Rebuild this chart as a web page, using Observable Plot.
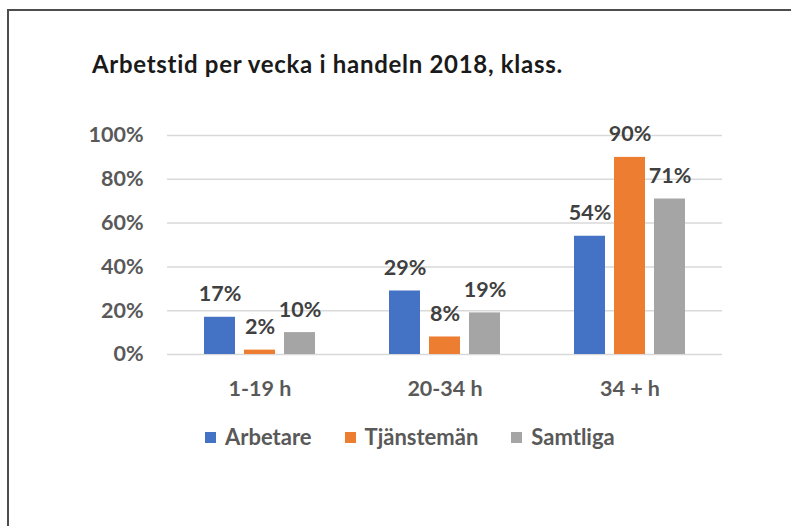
<!DOCTYPE html>
<html>
<head>
<meta charset="utf-8">
<script src="https://cdn.jsdelivr.net/npm/d3@7"></script>
<script src="https://cdn.jsdelivr.net/npm/@observablehq/plot@0.6"></script>
<style>
  body { margin: 0; background: #fff; }
  #wrap { position: relative; width: 791px; height: 526px; overflow: hidden; font-family: Lato, "Open Sans", sans-serif; }
  #frame { position: absolute; left: 7px; top: 9px; width: 800px; height: 600px; border-top: 2px solid #4d4d4d; border-left: 2px solid #4d4d4d; }
  #title { position: absolute; left: 92px; top: 52px; font-size: 24px; line-height: 24px; letter-spacing: 0.7px; font-weight: 700; color: #1a1a1a; white-space: nowrap; }
  #chart { position: absolute; left: 0; top: 120px; }
  #legend { position: absolute; left: 205px; top: 426px; display: flex; align-items: center; font-size: 22px; line-height: 22px; font-weight: 700; color: #595959; }
  .item { display: flex; align-items: center; margin-right: 33px; }
  .sw { width: 11px; height: 11px; margin-right: 9px; margin-top: 1px; }
</style>
</head>
<body>
<div id="wrap">
  <div id="frame"></div>
  <div id="title">Arbetstid per vecka i handeln 2018, klass.</div>
  <div id="chart"></div>
  <div id="legend"></div>
</div>
<script>
const categories = ["1-19 h", "20-34 h", "34 + h"];
const series = ["Arbetare", "Tjänstemän", "Samtliga"];
const colors = ["#4472C4", "#ED7D31", "#A5A5A5"];
const arbetare = [17, 29, 54];
const tjansteman = [2, 8, 90];
const samtliga = [10, 19, 71];
const yTicks = [0, 20, 40, 60, 80, 100];

const valuesBySeries = [arbetare, tjansteman, samtliga];
const data = [];
categories.forEach((c, i) => {
  series.forEach((s, j) => {
    data.push({cat: c, series: s, value: valuesBySeries[j][i]});
  });
});

const chart = Plot.plot({
  width: 791,
  height: 300,
  marginTop: 15,
  marginBottom: 66,
  marginLeft: 166,
  marginRight: 69,
  style: {fontFamily: "Lato, 'Open Sans', sans-serif", background: "transparent"},
  fx: {domain: categories, padding: 0, label: null},
  x: {domain: series, paddingInner: 0.22, paddingOuter: 0.87, axis: null},
  y: {domain: [0, 100], label: null},
  color: {domain: series, range: colors},
  marks: [
    Plot.gridY(yTicks, {stroke: "#d9d9d9", strokeOpacity: 1, strokeWidth: 1.5}),
    Plot.barY(data, {fx: "cat", x: "series", y: "value", fill: "series"}),
    Plot.text(data, {fx: "cat", x: "series", y: "value", text: d => d.value + "%", dy: -16, lineAnchor: "bottom", fontWeight: "bold", fontSize: 21.5, fill: "#404040"}),
    Plot.axisY(yTicks, {tickFormat: d => d + "%", tickSize: 0, tickPadding: 24, fontSize: 21.5, fontWeight: "bold", fill: "#595959", label: null}),
    Plot.axisFx({anchor: "bottom", tickSize: 0, tickPadding: 26, fontSize: 21.5, fontWeight: "bold", fill: "#595959", label: null})
  ]
});
document.getElementById("chart").appendChild(chart);

const legend = document.getElementById("legend");
series.forEach((s, i) => {
  const item = document.createElement("div");
  item.className = "item";
  const sw = document.createElement("div");
  sw.className = "sw";
  sw.style.background = colors[i];
  const lab = document.createElement("span");
  lab.textContent = s;
  item.appendChild(sw);
  item.appendChild(lab);
  legend.appendChild(item);
});
</script>
</body>
</html>
